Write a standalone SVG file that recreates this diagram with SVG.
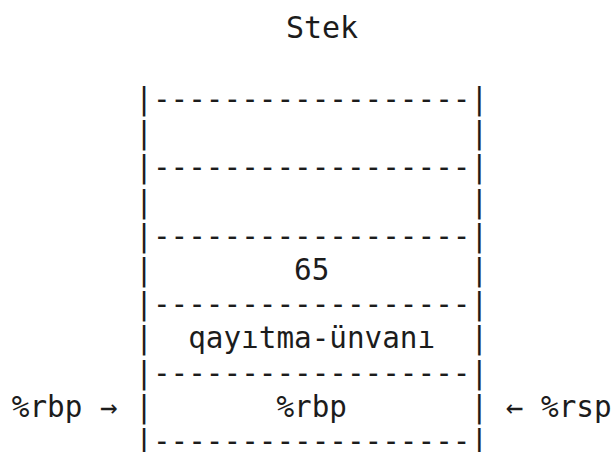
<svg xmlns="http://www.w3.org/2000/svg" width="615" height="452" viewBox="0 0 615 452">
<style>
  text { font-family: "DejaVu Sans Mono", "Liberation Mono", monospace; font-size: 29.3px; fill: #1c1c1c; white-space: pre; }
  .title { font-size: 30px; text-anchor: middle; }
</style>
<rect width="615" height="452" fill="#ffffff"/>
<g id="title"><text class="title" x="322" y="38.3">Stek</text></g>
<g id="stack-frame">
  <text x="135.3" y="109">|------------------|</text>
  <text x="135.3" y="143.2">|</text><text x="470.4" y="143.2">|</text>
  <text x="135.3" y="177.4">|------------------|</text>
  <text x="135.3" y="211.6">|</text><text x="470.4" y="211.6">|</text>
  <text x="135.3" y="245.8">|------------------|</text>
  <text x="135.3" y="280">|</text><text x="470.4" y="280">|</text>
  <text x="135.3" y="314.2">|------------------|</text>
  <text x="135.3" y="348.4">|</text><text x="470.4" y="348.4">|</text>
  <text x="135.3" y="382.6">|------------------|</text>
  <text x="135.3" y="416.8">|</text><text x="470.4" y="416.8">|</text>
  <text x="135.3" y="451">|------------------|</text>
</g>
<g id="cell-empty-1"></g>
<g id="cell-empty-2"></g>
<g id="cell-65"><text x="294.0" y="280">65</text></g>
<g id="cell-return"><text x="188.2" y="348.4">qayıtma-ünvanı</text></g>
<g id="cell-rbp"><text x="276.4" y="416.8">%rbp</text></g>
<g id="connectors">
  <text x="100.0" y="416.8">→</text>
  <text x="505.7" y="416.8">←</text>
</g>
<g id="label-rbp"><text x="11.8" y="416.8">%rbp</text></g>
<g id="label-rsp"><text x="541.0" y="416.8">%rsp</text></g>
</svg>
